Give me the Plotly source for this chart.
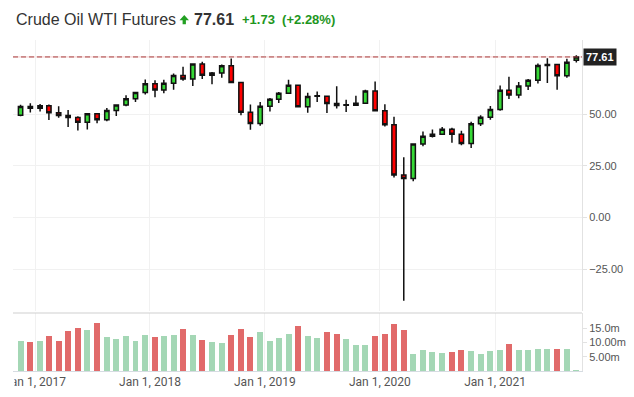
import pandas as pd
import plotly.graph_objects as go

# ---------------- data ----------------
months = pd.date_range("2016-12-01", periods=59, freq="MS")

opens = [49.4, 53.7, 52.8, 54.0, 50.6, 49.3, 48.3, 46.0, 50.2, 47.2, 51.7, 54.4,
         57.4, 60.4, 64.7, 61.6, 64.9, 68.6, 67.0, 74.2, 68.8, 69.8, 73.3, 65.3,
         50.9, 45.4, 53.8, 57.2, 60.1, 63.9, 53.5, 58.9, 58.6, 55.1, 54.5, 54.2,
         55.2, 61.1, 51.6, 44.8, 20.5, 18.8, 35.5, 39.3, 40.3, 42.6, 40.2, 35.8,
         45.3, 48.5, 52.2, 61.5, 59.2, 63.6, 66.3, 73.5, 74.0, 68.5, 76.0]
highs = [54.5, 55.2, 54.9, 54.6, 53.8, 52.0, 49.0, 50.4, 50.4, 52.9, 54.8, 59.1,
         60.5, 66.7, 66.3, 66.6, 69.6, 72.9, 74.5, 75.3, 70.3, 73.9, 76.9, 65.4,
         54.6, 55.8, 57.8, 60.7, 66.6, 64.0, 60.3, 60.9, 58.8, 63.4, 56.9, 58.8,
         61.8, 65.7, 54.7, 48.7, 29.1, 35.5, 41.6, 42.5, 43.8, 43.4, 41.9, 46.3,
         49.4, 53.9, 63.8, 68.0, 65.5, 67.0, 74.5, 77.0, 74.0, 76.7, 78.4]
lows = [49.0, 50.7, 51.2, 47.1, 48.2, 43.8, 42.1, 42.5, 45.6, 46.5, 49.1, 53.8,
        55.8, 59.4, 58.1, 60.0, 61.8, 66.1, 63.6, 67.0, 64.4, 67.6, 64.9, 49.4,
        42.4, 44.4, 51.2, 55.4, 60.0, 53.5, 50.6, 55.8, 50.5, 52.7, 51.0, 54.0,
        55.0, 51.3, 44.0, 19.3, -40.3, 17.5, 34.4, 38.7, 40.3, 36.1, 34.9, 33.6,
        44.2, 47.2, 51.6, 57.3, 57.6, 61.6, 64.8, 65.0, 61.7, 67.6, 74.9]
closes = [53.7, 52.8, 54.0, 50.6, 49.3, 48.3, 46.0, 50.2, 47.2, 51.7, 54.4, 57.4,
          60.4, 64.7, 61.6, 64.9, 68.6, 67.0, 74.2, 68.8, 69.8, 73.3, 65.3, 50.9,
          45.4, 53.8, 57.2, 60.1, 63.9, 53.5, 58.5, 58.6, 55.1, 54.1, 54.2, 55.2,
          61.1, 51.6, 44.8, 20.5, 18.8, 35.5, 39.3, 40.3, 42.6, 40.2, 35.8, 45.3,
          48.5, 52.2, 61.5, 59.2, 63.6, 66.3, 73.5, 74.0, 68.5, 75.0, 77.61]
volumes_m = [10.4, 10.2, 10.4, 12.3, 10.6, 14.0, 15.0, 14.3, 16.8, 11.9, 11.4, 12.3,
             10.6, 12.6, 11.9, 12.3, 12.6, 14.7, 12.6, 10.8, 10.2, 9.7, 12.7, 14.7,
             11.9, 13.6, 10.6, 11.5, 12.9, 15.8, 12.2, 11.5, 13.6, 12.9, 11.2, 9.0,
             9.0, 12.3, 12.9, 16.4, 14.3, 5.9, 7.3, 6.7, 6.2, 6.6, 7.4, 6.9,
             5.9, 6.9, 7.4, 9.5, 7.3, 7.3, 7.6, 7.6, 7.6, 7.8, 0.3]

title_text = "Crude Oil WTI Futures"
last_price = 77.61
change_text = "+1.73  (+2.28%)"
price_ticks = [50, 25, 0, -25]
vol_ticks = [5, 10, 15]
vol_ticktext = ["5.00m", "10.00m", "15.0m"]

# ---------------- layout geometry (screen pixels; page body has 8px margin) ----------------
OFF = 8
W, H = 634 - OFF, 397 - OFF
PL, PR, PT, PB = 13, 582, 40, 371          # plot area in screen px
ML, MT = PL - OFF, PT - OFF
MR, MB = W - (PR - OFF), H - (PB - OFF)
PW = PR - PL
PH = PB - PT


def px_x(px):
    return (px - PL) / PW


def px_y(py):
    return (PB - py) / PH


xpos = months - pd.Timedelta(days=15)

GREEN = "#36d936"
RED = "#ff0000"
VGREEN = "#a4d7b5"
VRED = "#e16a6a"
UPTXT = "#1e961e"

vol_colors = []
for i, c in enumerate(closes):
    ref = closes[i - 1] if i > 0 else opens[i]
    vol_colors.append(VGREEN if c >= ref else VRED)

fig = go.Figure()
fig.add_trace(go.Candlestick(
    x=xpos, open=opens, high=highs, low=lows, close=closes,
    increasing=dict(fillcolor=GREEN, line=dict(color="#111", width=1.5)),
    decreasing=dict(fillcolor=RED, line=dict(color="#111", width=1.5)),
    whiskerwidth=0, showlegend=False, hoverinfo="skip",
    xaxis="x", yaxis="y",
))
fig.add_trace(go.Bar(
    x=xpos, y=volumes_m, marker=dict(color=vol_colors, line=dict(width=0)),
    width=19 * 86400000, showlegend=False, hoverinfo="skip",
    xaxis="x2", yaxis="y2",
))

xr = ["2016-10-23", "2021-10-04"]
axis_font = dict(family="Liberation Sans, Arial, sans-serif", size=11, color="#555")
fig.update_layout(
    template="none",
    width=W, height=H,
    margin=dict(l=ML, r=MR, t=MT, b=MB, autoexpand=False),
    paper_bgcolor="white", plot_bgcolor="white",
    bargap=0,
    xaxis=dict(domain=[0, 1], anchor="y", range=xr, showticklabels=False, automargin=False,
               rangeslider=dict(visible=False), showgrid=True, gridcolor="#f1f1f1",
               dtick="M12", tick0="2017-01-01", zeroline=False, showline=False, ticks=""),
    xaxis2=dict(domain=[0, 1], anchor="y2", range=xr, matches="x", automargin=False,
                showgrid=True, gridcolor="#f1f1f1", dtick="M12", tick0="2017-01-01",
                tickformat="%b %-d, %Y", ticks="", showline=True, linecolor="#d6dce2",
                zeroline=False, ticklabeloverflow="allow",
                tickfont=dict(family="Roboto, sans-serif", size=12, color="#555")),
    yaxis=dict(domain=[px_y(311), 1], anchor="x", side="right", range=[-45.2, 85.8],
               automargin=False,
               tickvals=price_ticks, tickformat=".2f", showgrid=True, gridcolor="#f1f1f1",
               zeroline=False, showline=True, linecolor="#e2e2e2",
               ticks="outside", ticklen=4, tickcolor="#e2e2e2", tickfont=axis_font),
    yaxis2=dict(domain=[0, px_y(313)], anchor="x2", side="right", range=[0, 20.4],
                automargin=False,
                tickvals=vol_ticks, ticktext=vol_ticktext, showgrid=False,
                zeroline=False, showline=True, linecolor="#e2e2e2",
                ticks="outside", ticklen=4, tickcolor="#e2e2e2", tickfont=axis_font),
)

shapes = [
    # last price line
    dict(type="line", xref="paper", yref="y", x0=0, x1=1, y0=last_price, y1=last_price,
         line=dict(color="#f4c8c8", width=1), layer="below"),
    dict(type="line", xref="paper", yref="y", x0=0, x1=1, y0=last_price, y1=last_price,
         line=dict(color="#a84444", width=1, dash="5px,3px"), layer="above"),
    # separator above volume panel
    dict(type="line", xref="paper", yref="paper", x0=0, x1=1, y0=px_y(313), y1=px_y(313),
         line=dict(color="#cfcfcf", width=1.2)),
    # white mask clipping leftmost tick label
    dict(type="rect", xref="paper", yref="paper", x0=px_x(0), x1=px_x(14.5),
         y0=px_y(397), y1=px_y(372), fillcolor="white", line=dict(width=0), layer="above"),
    # green up arrow in title
    dict(type="path", xref="paper", yref="paper",
         path=(f"M {px_x(179.5)},{px_y(20.3)} L {px_x(189)},{px_y(20.3)} L {px_x(184.25)},{px_y(15)} Z "
               f"M {px_x(182.6)},{px_y(20.3)} L {px_x(185.9)},{px_y(20.3)} L {px_x(185.9)},{px_y(24.3)} "
               f"L {px_x(182.6)},{px_y(24.3)} Z"),
         fillcolor="#22a022", line=dict(width=0), layer="above"),
]
fig.update_layout(shapes=shapes)

annotations = [
    dict(text=title_text, xref="paper", yref="paper", x=px_x(14), y=px_y(19.5),
         xanchor="left", yanchor="middle", showarrow=False,
         font=dict(family="Liberation Sans, Arial, sans-serif", size=16, color="#333")),
    dict(text=f"<b>{last_price:.2f}</b>", xref="paper", yref="paper", x=px_x(192), y=px_y(19.5),
         xanchor="left", yanchor="middle", showarrow=False,
         font=dict(family="Liberation Sans, Arial, sans-serif", size=16, color="#333")),
    dict(text=f"<b>{change_text}</b>", xref="paper", yref="paper", x=px_x(239.5), y=px_y(19.8),
         xanchor="left", yanchor="middle", showarrow=False,
         font=dict(family="Liberation Sans, Arial, sans-serif", size=13, color=UPTXT)),
    dict(text=f"<b>{last_price:.2f}</b>", xref="paper", yref="y", x=1, y=last_price,
         xanchor="left", yanchor="middle", xshift=1, showarrow=False,
         bgcolor="#222222", borderpad=2,
         font=dict(family="Liberation Sans, Arial, sans-serif", size=11, color="white")),
]
fig.update_layout(annotations=annotations)

fig.write_html("out.html")
